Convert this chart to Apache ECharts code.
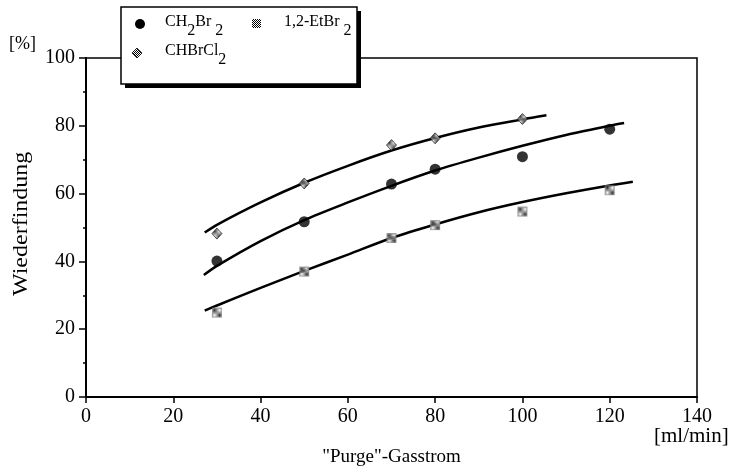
<!DOCTYPE html>
<html>
<head>
<meta charset="utf-8">
<script src="https://cdn.jsdelivr.net/npm/echarts@6/dist/echarts.min.js"></script>
<style>html,body{margin:0;padding:0;background:#fff}#c{width:741px;height:474px}</style>
</head>
<body>
<div id="c"></div>
<script>
// ---- data ----
const xValues = [30, 50, 70, 80, 100, 120];
const ch2br2 = [40.1, 51.7, 62.8, 67.2, 70.9, 79.0];
const etbr2 = [24.9, 37.0, 46.9, 50.7, 54.7, 61.0];
const chbrcl2X = [30, 50, 70, 80, 100];
const chbrcl2 = [48.2, 63.0, 74.3, 76.3, 82.0];

// fitted curves
const fitChBrCl2 = [[27.2,48.5],[30,50.8],[40,57.4],[50,63.2],[60,68.2],[70,72.7],[80,76.4],[90,79.5],[100,81.9],[105.5,83.1]];
const fitCh2Br2 = [[27.0,36.0],[30,38.7],[40,46.0],[50,52.2],[60,57.4],[70,62.3],[80,66.8],[90,70.6],[100,74.1],[110,77.3],[120,80.0],[123.3,80.8]];
const fitEtBr2 = [[27.2,25.5],[30,27.0],[40,32.2],[50,37.2],[60,42.0],[70,46.9],[80,50.9],[90,54.5],[100,57.5],[110,60.1],[120,62.4],[125.3,63.5]];

const xTicks = [0, 20, 40, 60, 80, 100, 120, 140];
const yTicks = [0, 20, 40, 60, 80, 100];

const FONT = '"Liberation Serif", "DejaVu Serif", serif';

// checker pattern
const pc = document.createElement('canvas');
pc.width = 2; pc.height = 2;
const pctx = pc.getContext('2d');
pctx.fillStyle = '#fff'; pctx.fillRect(0,0,2,2);
pctx.fillStyle = '#000'; pctx.fillRect(0,0,1,1); pctx.fillRect(1,1,1,1);
const checker = { image: pc, repeat: 'repeat' };

const pair = (xs, ys) => xs.map((x, i) => [x, ys[i]]);

const chart = echarts.init(document.getElementById('c'), null, { renderer: 'canvas' });

const curve = (data) => ({
  type: 'line', data: data, smooth: 0.3, showSymbol: false, symbol: 'none',
  lineStyle: { color: '#000', width: 2.5 }, silent: true, z: 2
});

const rich = {
  n: { fontFamily: FONT, fontSize: 16, lineHeight: 18, verticalAlign: 'top' },
  s: { fontFamily: FONT, fontSize: 16, padding: [9, 0, 0, 0], lineHeight: 18, verticalAlign: 'top' }
};

chart.setOption({
  animation: false,
  backgroundColor: '#fff',
  grid: { left: 86, right: 44, top: 58, bottom: 77, show: true, borderColor: '#000', borderWidth: 1.5, backgroundColor: 'transparent' },
  xAxis: {
    type: 'value', min: xTicks[0], max: xTicks[xTicks.length - 1], interval: 20,
    axisLine: { show: true, lineStyle: { color: '#000', width: 2 }, onZero: false },
    axisTick: { show: true, inside: false, length: 6, lineStyle: { color: '#000', width: 1.5 } },
    axisLabel: { color: '#000', fontFamily: FONT, fontSize: 20, margin: 10 },
    splitLine: { show: false },
    name: '"Purge"-Gasstrom', nameLocation: 'middle', nameGap: 51,
    nameTextStyle: { color: '#000', fontFamily: FONT, fontSize: 19 }
  },
  yAxis: {
    type: 'value', min: yTicks[0], max: yTicks[yTicks.length - 1], interval: 20,
    axisLine: { show: true, lineStyle: { color: '#000', width: 2 }, onZero: false },
    axisTick: { show: true, inside: false, length: 7, lineStyle: { color: '#000', width: 1.5 } },
    minorTick: { show: true, splitNumber: 2, length: 3, lineStyle: { color: '#000', width: 1.5 } },
    axisLabel: { color: '#000', fontFamily: FONT, fontSize: 20, margin: 11 },
    splitLine: { show: false }
  },
  series: [
    curve(fitChBrCl2), curve(fitCh2Br2), curve(fitEtBr2),
    { type: 'scatter', name: 'CH2Br2', data: pair(xValues, ch2br2), symbol: 'circle', symbolSize: 11,
      itemStyle: { color: '#000' }, z: 3 },
    { type: 'scatter', name: '1,2-EtBr2', data: pair(xValues, etbr2), symbol: 'rect', symbolSize: 10,
      itemStyle: { color: checker }, z: 3 },
    { type: 'scatter', name: 'CHBrCl2', data: pair(chbrcl2X, chbrcl2), symbol: 'diamond', symbolSize: [10, 11],
      itemStyle: { color: checker, borderColor: '#000', borderWidth: 0.8 }, z: 3 }
  ],
  graphic: [
    { type: 'text', left: 9, top: 35, style: { text: '[%]', font: '18px ' + FONT, fill: '#000' } },
    { type: 'text', left: 654, top: 426, style: { text: '[ml/min]', font: '21px ' + FONT, fill: '#000' } },
    { type: 'text', x: 12, y: 296, rotation: Math.PI / 2, scaleX: 1.2,
      style: { text: 'Wiederfindung', font: '20px ' + FONT, fill: '#000', textAlign: 'left', textVerticalAlign: 'top' } },
    // legend box with shadow
    { type: 'rect', shape: { x: 125, y: 11, width: 236, height: 77 }, style: { fill: '#000' }, z: 10 },
    { type: 'rect', shape: { x: 121, y: 7, width: 236, height: 77 }, style: { fill: '#fff', stroke: '#000', lineWidth: 1.5 }, z: 11 },
    { type: 'circle', shape: { cx: 140, cy: 24, r: 5 }, style: { fill: '#000' }, z: 12 },
    { type: 'rect', shape: { x: 252, y: 19, width: 9, height: 9 }, style: { fill: Object.assign({ type: 'pattern' }, checker) }, z: 12 },
    { type: 'polygon', shape: { points: [[137, 48], [142, 53], [137, 58], [132, 53]] },
      style: { fill: Object.assign({ type: 'pattern' }, checker), stroke: '#000', lineWidth: 0.8 }, z: 12 },
    { type: 'text', x: 165, y: 14, z: 12, style: { text: '{n|CH}{s|2}{n|Br}{s| 2}', fill: '#000', font: '16px ' + FONT, rich: rich } },
    { type: 'text', x: 284, y: 14, z: 12, style: { text: '{n|1,2-EtBr}{s| 2}', fill: '#000', font: '16px ' + FONT, rich: rich } },
    { type: 'text', x: 165, y: 43, z: 12, style: { text: '{n|CHBrCl}{s|2}', fill: '#000', font: '16px ' + FONT, rich: rich } }
  ]
});
</script>
</body>
</html>
